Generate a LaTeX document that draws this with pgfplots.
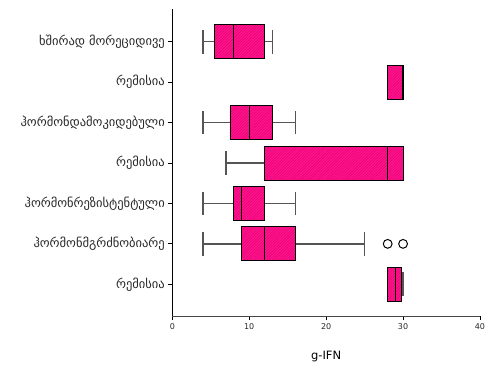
\documentclass[border=0pt]{standalone}
\usepackage{fontspec}
\setmainfont{DejaVu Sans}
\usepackage{pgfplots}
\pgfplotsset{compat=1.18}
\usepgfplotslibrary{statistics}
\usetikzlibrary{patterns.meta}
\definecolor{boxpink}{RGB}{255,20,140}
\definecolor{hatchpink}{RGB}{225,0,115}
\definecolor{whiskgray}{RGB}{85,85,85}
\definecolor{axisgray}{RGB}{70,70,70}
\definecolor{labelgray}{RGB}{40,40,40}

\begin{document}
\begin{tikzpicture}
\begin{axis}[
  at={(172.3pt,55pt)}, anchor=south west,
  scale only axis, width=307.7pt, height=307.3pt,
  xmin=0, xmax=40, ymin=0.216, ymax=7.816,
  axis x line*=bottom, axis y line*=left,
  x axis line style={draw=axisgray, line width=0.9pt},
  y axis line style={draw=black, line width=0.9pt},
  xtick={0,10,20,30,40},
  ytick={1,2,3,4,5,6,7},
  yticklabels={რემისია, ჰორმონმგრძნობიარე, ჰორმონრეზისტენტული, რემისია, ჰორმონდამოკიდებული, რემისია, ხშირად მორეციდივე},
  tick align=outside, major tick length=4pt,
  tick style={black, line width=0.8pt},
  /pgf/number format/assume math mode=true,
  x tick label style={font=\fontsize{8}{9}\selectfont, text=labelgray},
  y tick label style={font=\fontsize{12.5}{14}\selectfont, text=labelgray},
  xlabel={g-IFN},
  xlabel style={font=\fontsize{11.5}{13}\selectfont, at={(axis description cs:0.5,0)}, anchor=center, yshift=-41pt},
  boxplot/draw direction=x,
  boxplot/box extend=0.84,
  boxplot/whisker extend=0.59,
  boxplot/every box/.style={draw=black, line width=0.9pt, fill=boxpink,
    postaction={pattern={Lines[angle=45,distance=2pt,line width=0.45pt]}, pattern color=hatchpink}},
  boxplot/every whisker/.style={draw=whiskgray, line width=1.4pt},
  boxplot/every median/.style={draw=black, line width=1pt},
]
% ხშირად მორეციდივე
\addplot[boxplot prepared={draw position=7, lower whisker=4, lower quartile=5.5,
  median=8, upper quartile=12, upper whisker=13}] coordinates {};
% რემისია
\addplot[boxplot prepared={draw position=6, lower whisker=28, lower quartile=28,
  median=29.9, upper quartile=30, upper whisker=30}] coordinates {};
% ჰორმონდამოკიდებული
\addplot[boxplot prepared={draw position=5, lower whisker=4, lower quartile=7.5,
  median=10, upper quartile=13, upper whisker=16}] coordinates {};
% რემისია
\addplot[boxplot prepared={draw position=4, lower whisker=7, lower quartile=12,
  median=28, upper quartile=30, upper whisker=30}] coordinates {};
% ჰორმონრეზისტენტული
\addplot[boxplot prepared={draw position=3, lower whisker=4, lower quartile=8,
  median=9, upper quartile=12, upper whisker=16}] coordinates {};
% ჰორმონმგრძნობიარე, with two outliers
\addplot[boxplot prepared={draw position=2, lower whisker=4, lower quartile=9,
  median=12, upper quartile=16, upper whisker=25},
  mark=o, mark size=4.4pt, mark options={draw=black, line width=1pt}]
  table[row sep=\\, y index=0] {data\\ 28\\ 30\\};
% რემისია
\addplot[boxplot prepared={draw position=1, lower whisker=28, lower quartile=28,
  median=29, upper quartile=29.8, upper whisker=30}] coordinates {};
\end{axis}
\pgfresetboundingbox
\path[use as bounding box] (0,0) rectangle (493pt,371pt);
\end{tikzpicture}
\end{document}
